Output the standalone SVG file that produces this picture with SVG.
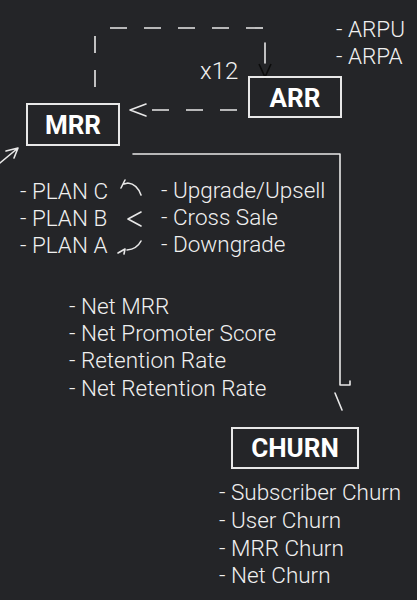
<svg xmlns="http://www.w3.org/2000/svg" width="417" height="600" viewBox="0 0 417 600">
<style>
.lbl{font-family:Roboto,"Liberation Sans",sans-serif;font-weight:300;font-size:22.5px;fill:#f0f0f0}
.node{font-family:Roboto,"Liberation Sans",sans-serif;font-weight:700;font-size:26px;fill:#ffffff;text-anchor:middle}
.box{fill:none;stroke:#e8e8e8;stroke-width:2}
.ln{fill:none;stroke:#e8e8e8;stroke-width:1.6;stroke-linecap:round;stroke-linejoin:round}
.dash{fill:none;stroke:#e8e8e8;stroke-width:1.6;stroke-dasharray:17,17}
</style>
<rect width="417" height="600" fill="#242528"/>
<g id="connectors">
<path class="dash" d="M95,87 V33"/>
<path class="dash" d="M110,28 H265"/>
<path class="ln" d="M265,43 V63"/>
<path d="M259,64 L265,77 L271,64" fill="none" stroke="#0c0c0c" stroke-width="1.6"/>
<path class="dash" d="M237,110 H150"/>
<path class="ln" d="M146,104 L130,110 L146,116"/>
<path class="ln" d="M133,154 H340 V385 H350 V381"/>
<path class="ln" d="M335,393 L342,410"/>
<path class="ln" d="M0,163 L18,148 M6,151 L18,148 L14,158"/>
<path class="ln" d="M141,195 Q137,184 128,183 M125,180 L121,188 M124,184 L128,183"/>
<path class="ln" d="M141,212 L128,219 L141,226"/>
<path class="ln" d="M141,241 Q137,249 127,250 M118,253 L125,249 L124,254"/>
</g>
<g id="arr">
<rect class="box" x="249" y="77" width="92" height="40"/>
<text class="node" x="295" y="107">ARR</text>
</g>
<g id="mrr">
<rect class="box" x="27" y="104" width="92" height="41"/>
<text class="node" x="73" y="134">MRR</text>
</g>
<g id="churn">
<rect class="box" x="232" y="428" width="126" height="40"/>
<text class="node" x="295" y="457">CHURN</text>
</g>
<g id="texts">
<text class="lbl" x="200" y="79" style="font-size:24px">x12</text>
<text class="lbl" x="336" y="37">- ARPU</text>
<text class="lbl" x="336" y="64">- ARPA</text>
<text class="lbl" x="20" y="199">- PLAN C</text>
<text class="lbl" x="20" y="226">- PLAN B</text>
<text class="lbl" x="20" y="253">- PLAN A</text>
<text class="lbl" x="161" y="198">- Upgrade/Upsell</text>
<text class="lbl" x="161" y="225">- Cross Sale</text>
<text class="lbl" x="161" y="252">- Downgrade</text>
<text class="lbl" x="69" y="314">- Net MRR</text>
<text class="lbl" x="69" y="341">- Net Promoter Score</text>
<text class="lbl" x="69" y="368">- Retention Rate</text>
<text class="lbl" x="69" y="396">- Net Retention Rate</text>
<text class="lbl" x="219" y="500">- Subscriber Churn</text>
<text class="lbl" x="219" y="528">- User Churn</text>
<text class="lbl" x="219" y="556">- MRR Churn</text>
<text class="lbl" x="219" y="583">- Net Churn</text>
</g>
</svg>
